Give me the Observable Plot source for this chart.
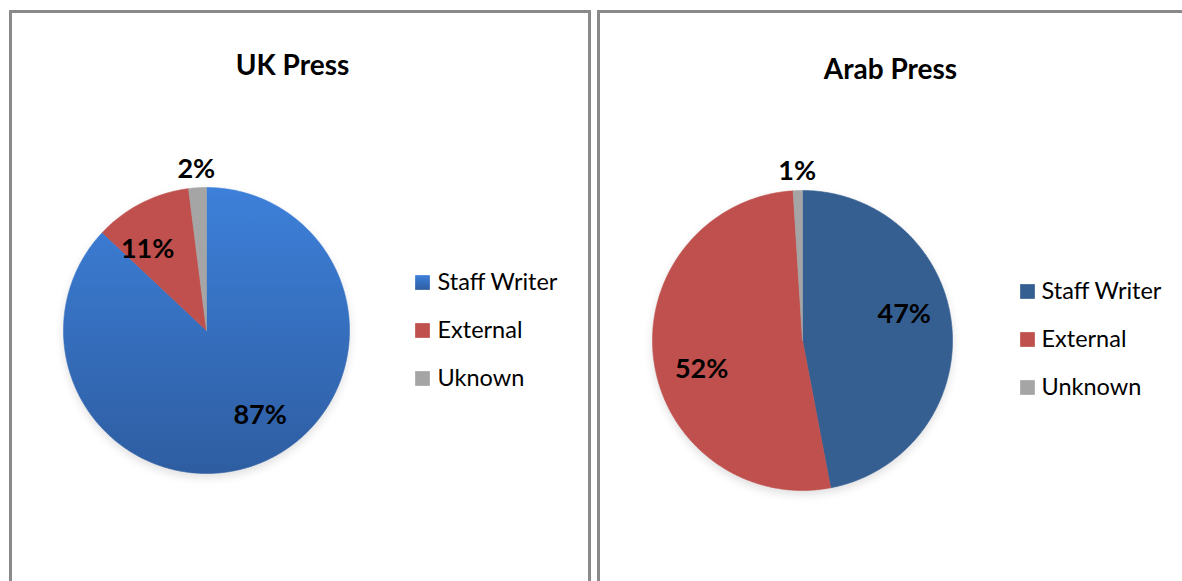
<!DOCTYPE html>
<html><head><meta charset="utf-8">
<script src="https://cdn.jsdelivr.net/npm/d3@7"></script>
<script src="https://cdn.jsdelivr.net/npm/@observablehq/plot@0.6"></script>
<style>
html,body{margin:0;padding:0;background:#fff;}
#root{position:relative;width:1182px;height:581px;overflow:hidden;font-family:Lato,"Open Sans",sans-serif;}
.panel{position:absolute;border:3px solid #8a8a8a;box-sizing:border-box;background:#fff;}
.plot{position:absolute;}
</style></head><body><div id="root"></div>
<script>
// ---- data ----
const ukCategories = ["Staff Writer", "External", "Uknown"];
const ukValues = [87, 11, 2];
const arabCategories = ["Staff Writer", "External", "Unknown"];
const arabValues = [47, 52, 1];
const ukColors = ["url(#ukBlue)", "#c0504d", "#a5a5a5"];
const arabColors = ["#365f91", "#c0504d", "#a5a5a5"];
const titles = ["UK Press", "Arab Press"];

// ---- layout (page pixels) ----
const panels = [
  {left: 9, top: 10, width: 582, height: 600, svgLeft: 12, svgTop: 13, svgW: 576, svgH: 568,
   cx: 206, cy: 330, r: 143, titleX: 292, titleY: 66, legX: 422, legTextX: 437, legY: 282},
  {left: 597, top: 10, width: 620, height: 600, svgLeft: 600, svgTop: 13, svgW: 582, svgH: 568,
   cx: 802, cy: 340, r: 150, titleX: 890, titleY: 70, legX: 1027, legTextX: 1041, legY: 291}
];
const legStep = 48;
const labelShift = -9 * Math.PI / 180; // best-fit label rotation

const root = document.getElementById("root");

function draw(L, categories, values, colors, title, gradient) {
  const panel = document.createElement("div");
  panel.className = "panel";
  Object.assign(panel.style, {left: L.left + "px", top: L.top + "px", width: L.width + "px", height: L.height + "px"});
  root.appendChild(panel);

  const arcs = d3.pie().sort(null).value(d => d.value)(categories.map((c, i) => ({category: c, value: values[i]})));
  const total = d3.sum(values);
  const pts = [];
  for (const a of arcs) {
    const cat = a.data.category;
    pts.push({category: cat, x: 0, y: 0});
    const n = Math.max(2, Math.ceil((a.endAngle - a.startAngle) / (Math.PI / 360)));
    for (let k = 0; k <= n; k++) {
      const t = a.startAngle + (a.endAngle - a.startAngle) * k / n;
      pts.push({category: cat, x: Math.sin(t), y: Math.cos(t)});
    }
    pts.push({category: cat, x: 0, y: 0});
  }
  const labels = arcs.map(a => {
    const small = a.data.value / total < 0.05;
    const m = (a.startAngle + a.endAngle) / 2 + (small ? 0 : labelShift);
    const rr = small ? 1.13 : 0.7;
    return {text: a.data.value + "%", x: rr * Math.sin(m), y: rr * Math.cos(m)};
  });

  const cx = L.cx - L.svgLeft, cy = L.cy - L.svgTop;
  const legendMarks = categories.flatMap((c, i) => [
    Plot.dot([c], {frameAnchor: "top-left", dx: L.legX - L.svgLeft, dy: L.legY - L.svgTop + i * legStep,
      fill: d => d, symbol: "square", r: 8.3}),
    Plot.text([c], {frameAnchor: "top-left", dx: L.legTextX - L.svgLeft, dy: L.legY - L.svgTop + i * legStep,
      text: d => d, textAnchor: "start", lineAnchor: "middle", fill: "#000", fontSize: 23.5})
  ]);

  const svg = Plot.plot({
    width: L.svgW, height: L.svgH,
    margin: 0,
    style: {fontFamily: "Lato, 'Open Sans', sans-serif", background: "transparent", overflow: "visible"},
    x: {domain: [-1, 1], range: [cx - L.r, cx + L.r], axis: null},
    y: {domain: [-1, 1], range: [cy + L.r, cy - L.r], axis: null},
    color: {domain: categories, range: colors},
    marks: [
      Plot.line(pts, {x: "x", y: "y", z: "category", fill: "category", stroke: "category", strokeWidth: 0.6, curve: "linear"}),
      Plot.text(labels, {x: "x", y: "y", text: "text", lineAnchor: "middle", fontSize: 27, fontWeight: "bold", fill: "#000"}),
      Plot.text([title], {frameAnchor: "top-left", dx: L.titleX - L.svgLeft, dy: L.titleY - L.svgTop,
        text: d => d, textAnchor: "middle", lineAnchor: "middle", fontSize: 28, fontWeight: "bold", fill: "#000"}),
      ...legendMarks
    ]
  });
  svg.classList.add("plot");
  Object.assign(svg.style, {left: L.svgLeft + "px", top: L.svgTop + "px"});
  if (gradient) {
    const ns = "http://www.w3.org/2000/svg";
    const defs = document.createElementNS(ns, "defs");
    defs.innerHTML = `<linearGradient id="${gradient.id}" x1="0" y1="0" x2="0" y2="1">
      <stop offset="0" stop-color="${gradient.from}"/><stop offset="1" stop-color="${gradient.to}"/></linearGradient>`;
    svg.insertBefore(defs, svg.firstChild);
  }
  const lineG = svg.querySelector('g[aria-label="line"]');
  if (lineG) lineG.style.filter = "drop-shadow(0px 4px 4px rgba(0,0,0,0.12))";
  root.appendChild(svg);
}

draw(panels[0], ukCategories, ukValues, ukColors, titles[0], {id: "ukBlue", from: "#3d80da", to: "#2e5da1"});
draw(panels[1], arabCategories, arabValues, arabColors, titles[1], null);
</script></body></html>
